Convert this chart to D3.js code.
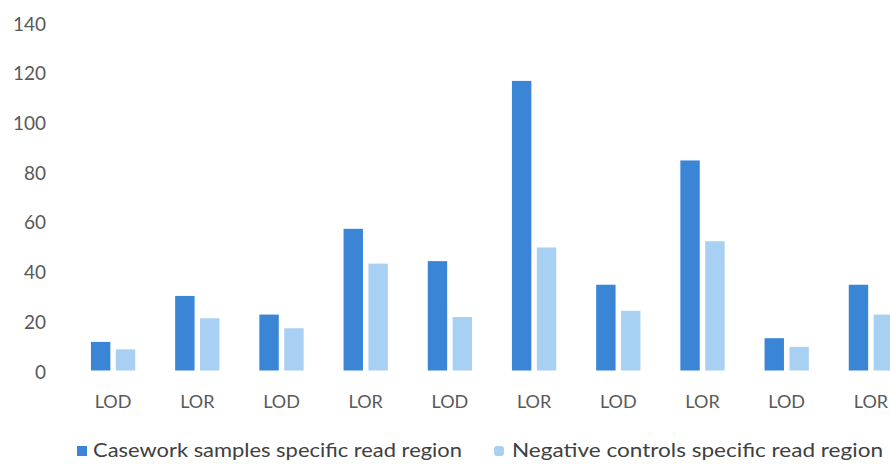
<!DOCTYPE html>
<html>
<head>
<meta charset="utf-8">
<script src="https://cdn.jsdelivr.net/npm/d3@7"></script>
<style>
    body { margin: 0; background: #fff; }
    svg { display: block; font-family: Lato, "Liberation Sans", sans-serif; }
</style>
</head>
<body>
<svg width="890" height="464"></svg>
<script>
// Data
const categories = ["LOD", "LOR", "LOD", "LOR", "LOD", "LOR", "LOD", "LOR", "LOD", "LOR"];
const casework = [11.5, 30, 22.5, 57, 44, 116.5, 34.5, 84.5, 13, 34.5];
const negative = [8.5, 21, 17, 43, 21.5, 49.5, 24, 52, 9.5, 22.5];
const seriesNames = ["Casework samples specific read region", "Negative controls specific read region"];
const seriesColors = ["#3a85d5", "#a8d0f3"];
const yTicks = [0, 20, 40, 60, 80, 100, 120, 140];

const svg = d3.select("svg");

// Scales
const idx = categories.map((c, i) => i);
const x0 = d3.scaleBand()
    .domain(idx)
    .range([71, 913])
    .paddingInner(0.474)
    .paddingOuter(0.237);

const x1 = d3.scaleBand()
    .domain([0, 1])
    .range([0, x0.bandwidth()])
    .paddingInner(0.22);

const y = d3.scaleLinear()
    .domain([0, 140])
    .range([370.5, 22.5]);

// Y axis (labels only)
const yAxis = svg.append("g")
    .attr("transform", "translate(46,0)")
    .call(d3.axisLeft(y).tickValues(yTicks).tickSize(0).tickPadding(0));
yAxis.select(".domain").remove();
yAxis.selectAll("text")
    .attr("font-size", 19)
    .attr("font-family", "Lato, sans-serif")
    .attr("fill", "#595959")
    .attr("dy", "0.4em");

// Bars
const rows = idx.map(i => [casework[i], negative[i]]);
const groups = svg.append("g")
    .selectAll("g")
    .data(rows)
    .join("g")
    .attr("transform", (d, i) => `translate(${x0(i)},0)`);

groups.selectAll("rect")
    .data(d => d.map((v, s) => ({ v, s })))
    .join("rect")
    .attr("x", d => x1(d.s))
    .attr("y", d => y(d.v))
    .attr("width", x1.bandwidth())
    .attr("height", d => y(0) - y(d.v))
    .attr("fill", d => seriesColors[d.s]);

// X axis (labels only)
const xAxis = svg.append("g")
    .attr("transform", "translate(0,395)")
    .call(d3.axisBottom(x0).tickFormat(i => categories[i]).tickSize(0).tickPadding(0));
xAxis.select(".domain").remove();
xAxis.selectAll("text")
    .attr("font-size", 18)
    .attr("font-family", "Lato, sans-serif")
    .attr("fill", "#595959")
    .attr("dy", "0.72em");

// Legend
const legendItems = [
    { mark: 77, text: 93, width: 369 },
    { mark: 494, text: 512, width: 371 }
];
const legend = svg.append("g");
legend.selectAll("rect")
    .data(legendItems)
    .join("rect")
    .attr("x", d => d.mark)
    .attr("y", 446)
    .attr("width", 10)
    .attr("height", 10)
    .attr("rx", (d, i) => i === 1 ? 3 : 0)
    .attr("fill", (d, i) => seriesColors[i]);

legend.selectAll("text")
    .data(legendItems)
    .join("text")
    .attr("x", d => d.text)
    .attr("y", 450)
    .attr("dy", "0.36em")
    .attr("font-size", 20)
    .attr("fill", "#404040")
    .attr("textLength", d => d.width)
    .attr("lengthAdjust", "spacingAndGlyphs")
    .text((d, i) => seriesNames[i]);
</script>
</body>
</html>
